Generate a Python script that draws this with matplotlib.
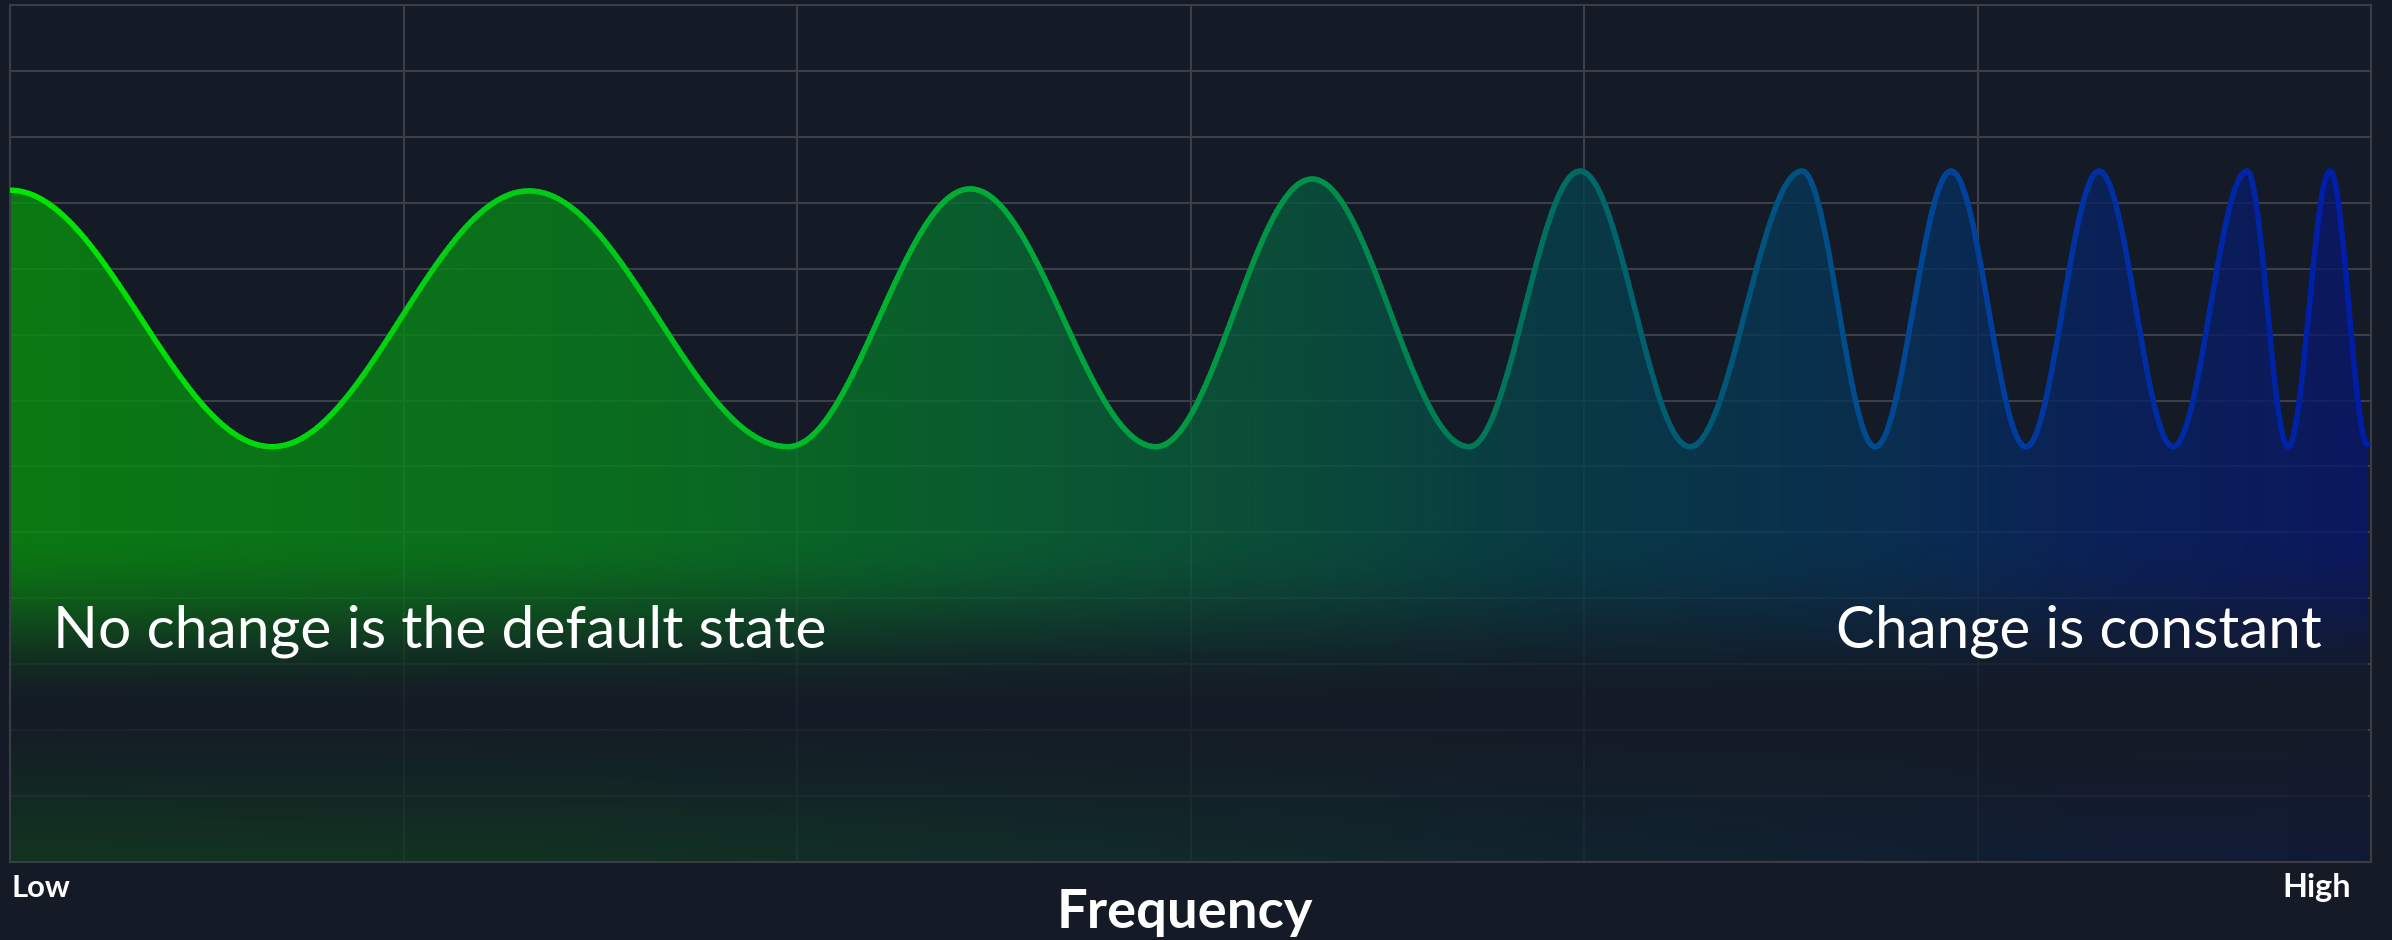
import numpy as np
import matplotlib
matplotlib.use("Agg")
import matplotlib.pyplot as plt
from matplotlib.collections import LineCollection
from matplotlib.colors import to_rgb
from matplotlib.patches import Polygon

# ---------------- data ----------------
# extrema of the wave (alternating peaks / troughs), x in 0..6, y in 0..13
wave_x = [0.000, 0.666, 1.319, 1.977, 2.440, 2.912, 3.309, 3.708, 3.990, 4.269,
          4.554, 4.740, 4.933, 5.123, 5.309, 5.497, 5.685, 5.789, 5.896, 5.992]
wave_y = [10.19, 6.30, 10.18, 6.30, 10.21, 6.30, 10.36, 6.30, 10.48, 6.30,
          10.48, 6.30, 10.48, 6.30, 10.48, 6.30, 10.48, 6.30, 10.48, 6.33]

line_stop_x = [0.0, 1.75, 2.57, 3.31, 3.71, 3.99, 4.27, 4.93, 5.31, 6.0]
line_stop_colors = ["#00e600", "#00c41e", "#00a83a", "#009048", "#007a58",
                    "#006a64", "#005a74", "#00449a", "#0030a2", "#001ca8"]

fill_stop_x = [0.0, 1.5, 2.2, 2.57, 3.31, 3.94, 4.80, 5.31, 6.0]
fill_stop_colors = ["#0b7a13", "#0b6e1e", "#0a622a", "#0b5a32", "#0b4b3a",
                    "#093a45", "#0a2e50", "#0b2258", "#0c185e"]

x_grid = [0, 1, 2, 3, 4, 5, 6]
y_grid = list(range(0, 14))

text_left = "No change is the default state"
text_right = "Change is constant"
label_low = "Low"
label_high = "High"
axis_title = "Frequency"

# ---------------- style ----------------
BG = "#151b26"
GRID = "#3c3f47"
W, H = 2392, 940
FONT = "Lato"

fig = plt.figure(figsize=(W / 100, H / 100), dpi=100, facecolor=BG)
L, R, T, B = 10, 2371, 5, 862
ax = fig.add_axes([L / W, (H - B) / H, (R - L) / W, (B - T) / H])
ax.set_facecolor(BG)
ax.set_xlim(0, 6)
ax.set_ylim(0, 13)
ax.set_xticks(x_grid)
ax.set_yticks(y_grid)
ax.tick_params(length=0, labelbottom=False, labelleft=False)
ax.grid(True, color=GRID, lw=1.5, zorder=1)
ax.set_axisbelow(True)
for s in ax.spines.values():
    s.set_color("#3a3d45")
    s.set_linewidth(1.5)

# smooth curve through extrema (half-cosine between extremes)
xs, ys = [], []
for i in range(len(wave_x) - 1):
    t = np.linspace(0, 1, 80, endpoint=(i == len(wave_x) - 2))
    xs.append(wave_x[i] + (wave_x[i + 1] - wave_x[i]) * t)
    ys.append(wave_y[i] + (wave_y[i + 1] - wave_y[i]) * (1 - np.cos(np.pi * t)) / 2)
xs = np.concatenate(xs)
ys = np.concatenate(ys)

# gradient fill image clipped under curve
bg = np.array(to_rgb(BG))
fc = np.array([to_rgb(c) for c in fill_stop_colors])
nx, ny = 1200, 860
gx = np.linspace(0, 6, nx)
gy = np.linspace(13, 0, ny)
col = np.stack([np.interp(gx, fill_stop_x, fc[:, k]) for k in range(3)], axis=1)
# vertical profile
y_top, y_mid = 5.04, 2.2
f = np.ones_like(gy)
m = (gy < y_top) & (gy >= y_mid)
tt = (y_top - gy[m]) / (y_top - y_mid)
f[m] = (1 + np.cos(np.pi * tt)) / 2
m2 = gy < y_mid
f[m2] = 0.28 * (y_mid - gy[m2]) / y_mid
alpha = 0.8
target = bg[None, None, :] + f[:, None, None] * (col[None, :, :] - bg[None, None, :])
rgb = (target - (1 - alpha) * bg[None, None, :]) / alpha
rgb = np.clip(rgb, 0, 1)
img = np.concatenate([rgb, np.full((ny, nx, 1), alpha)], axis=2)
poly = Polygon(np.column_stack([np.r_[xs, xs[-1], xs[0]], np.r_[ys, 0, 0]]),
               closed=True, transform=ax.transData, facecolor="none", edgecolor="none")
ax.add_patch(poly)
im = ax.imshow(img, extent=[0, 6, 0, 13], origin="upper", aspect="auto",
               interpolation="bilinear", zorder=2)
im.set_clip_path(poly)

# gradient line
lc_cols = np.array([to_rgb(c) for c in line_stop_colors])
pts = np.column_stack([xs, ys]).reshape(-1, 1, 2)
segs = np.concatenate([pts[:-1], pts[1:]], axis=1)
mid = (xs[:-1] + xs[1:]) / 2
segc = np.stack([np.interp(mid, line_stop_x, lc_cols[:, k]) for k in range(3)], axis=1)
lc = LineCollection(segs, colors=segc, linewidths=3.9, capstyle="round",
                    joinstyle="round", zorder=3)
ax.add_collection(lc)

# texts
def fy(py):
    return (H - py) / H

t1 = fig.text(53 / W, fy(647), text_left, color="white", fontsize=40,
              family=FONT, ha="left", va="baseline", zorder=5)
t2 = fig.text(2322 / W, fy(647), text_right, color="white", fontsize=40,
              family=FONT, ha="right", va="baseline", zorder=5)
t3 = fig.text(11 / W, fy(897), label_low, color="white", fontsize=24,
              family=FONT, weight="bold", ha="left", va="baseline")
t4 = fig.text(2351 / W, fy(897), label_high, color="white", fontsize=24,
              family=FONT, weight="bold", ha="right", va="baseline")
t5 = fig.text(1185 / W, fy(928), axis_title, color="white", fontsize=36,
              family=FONT, weight="bold", ha="center", va="baseline")

fig.canvas.draw()
r = fig.canvas.get_renderer()
for t, w in [(t1, 772), (t2, 485), (t3, 59), (t4, 69), (t5, 256)]:
    cw = t.get_window_extent(r).width
    t.set_fontsize(t.get_fontsize() * w / cw)

fig.savefig("out.png", dpi=100, facecolor=BG)
